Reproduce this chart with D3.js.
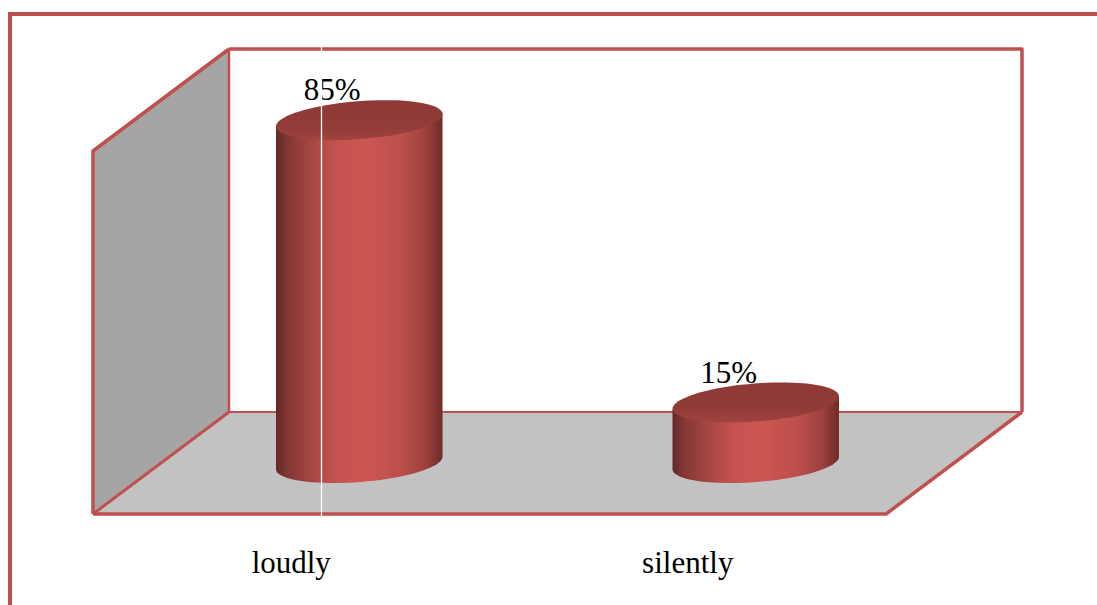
<!DOCTYPE html>
<html>
<head>
<meta charset="utf-8">
<script src="https://cdn.jsdelivr.net/npm/d3@7"></script>
<style>
  html, body { margin: 0; padding: 0; background: #ffffff; }
  svg { display: block; }
</style>
</head>
<body>
<svg id="chart" width="1097" height="605"></svg>
<script>
// Share of answers per reading style
const categories = ["loudly", "silently"];
const values = [85, 15];
const valueLabels = ["85%", "15%"];
const axisMax = 90;

const W = 1097, H = 605;
const edge = "#c0504d";
const svg = d3.select("#chart");

// 3D box: front plane plus a depth offset towards the back
const front = { left: 93, right: 886, floor: 514 };
const depth = { dx: 136, dy: -102 };
const wallHeight = 363;               // back wall height in px

const x = d3.scaleBand().domain(categories).range([front.left, front.right]).padding(0);
const h = d3.scaleLinear().domain([0, axisMax]).range([0, wallHeight]);

const defs = svg.append("defs");
const grad = defs.append("linearGradient").attr("id", "cyl").attr("x1", 0).attr("x2", 1).attr("y1", 0).attr("y2", 0);
[
  [0.00, "#622826"], [0.07, "#843634"], [0.22, "#a64745"], [0.37, "#c65350"],
  [0.55, "#cc5551"], [0.75, "#bd4f4c"], [0.90, "#9d413e"], [1.00, "#6e2b29"]
].forEach(([o, c]) => grad.append("stop").attr("offset", o).attr("stop-color", c));

const topGrad = defs.append("linearGradient").attr("id", "cylTop").attr("x1", 0).attr("x2", 0).attr("y1", 0).attr("y2", 1);
[[0, "#8d3936"], [0.7, "#923c39"], [1, "#a2433f"]].forEach(([o, c]) => topGrad.append("stop").attr("offset", o).attr("stop-color", c));

// Outer frame
svg.append("path")
  .attr("d", `M10,${H} L10,14 L${W},14`)
  .attr("fill", "none").attr("stroke", edge).attr("stroke-width", 4);

const bx = front.left + depth.dx, bxr = front.right + depth.dx;
const by = front.floor + depth.dy, bTop = by - wallHeight;

// Back wall
svg.append("rect").attr("x", bx).attr("y", bTop).attr("width", bxr - bx).attr("height", wallHeight).attr("fill", "#ffffff");

// Side wall
svg.append("path")
  .attr("d", `M${front.left},${front.floor} L${front.left},${front.floor - wallHeight} L${bx},${bTop} L${bx},${by} Z`)
  .attr("fill", "#a5a5a5");

// Floor
svg.append("path")
  .attr("d", `M${front.left},${front.floor} L${bx},${by} L${bxr},${by} L${front.right},${front.floor} Z`)
  .attr("fill", "#c2c2c2");

// Box edges
const edges = svg.append("g").attr("fill", "none").attr("stroke", edge).attr("stroke-linejoin", "round");
edges.append("path").attr("d", `M${bx},${by} L${bxr},${by}`).attr("stroke-width", 2);
edges.append("path").attr("d", `M${bx},${by} L${bx},${bTop}`).attr("stroke-width", 2.5);
edges.append("path").attr("d", `M${bx},${bTop} L${bxr},${bTop} L${bxr},${by}`).attr("stroke-width", 3.5);
edges.append("path").attr("d", `M${front.left},${front.floor} L${front.left},${front.floor - wallHeight} L${bx},${bTop}`).attr("stroke-width", 3.5);
edges.append("path").attr("d", `M${front.left},${front.floor} L${bx},${by}`).attr("stroke-width", 3);
edges.append("path").attr("d", `M${front.left},${front.floor} L${front.right},${front.floor} L${bxr},${by}`).attr("stroke-width", 3.5);

// Cylinders sit at mid depth; their elliptical caps are slightly tilted
const rx = 83.5, ry = 19, rot = -4.5 * Math.PI / 180;
const cosR = Math.cos(rot), sinR = Math.sin(rot);
const ellipsePt = (cx, cy, t) => [
  cx + rx * Math.cos(t) * cosR - ry * Math.sin(t) * sinR,
  cy + rx * Math.cos(t) * sinR + ry * Math.sin(t) * cosR
];
const arcPoints = (cx, cy, t0, t1, n = 40) =>
  d3.range(n + 1).map(i => ellipsePt(cx, cy, t0 + (t1 - t0) * i / n));

const data = categories.map((c, i) => ({ cat: c, value: values[i], label: valueLabels[i] }));
const bars = svg.append("g").selectAll("g").data(data).join("g");

bars.each(function(d) {
  const g = d3.select(this);
  const cx = x(d.cat) + x.bandwidth() / 2 + depth.dx / 2;
  const baseY = front.floor + depth.dy / 2;
  const topY = baseY - h(d.value);

  // Body: top-left corner, down and along the front half of the base, back up to top-right
  const pts = [ellipsePt(cx, topY, Math.PI), ...arcPoints(cx, baseY, Math.PI, 0), ellipsePt(cx, topY, 0)];
  g.append("path")
    .attr("d", d3.line()(pts) + "Z")
    .attr("fill", "url(#cyl)");

  // Top cap
  g.append("path")
    .attr("d", d3.line()(arcPoints(cx, topY, 0, 2 * Math.PI, 80)) + "Z")
    .attr("fill", "url(#cylTop)");

  g.append("text")
    .attr("x", cx - 27)
    .attr("y", topY - ry - 1)
    .attr("text-anchor", "middle")
    .attr("font-family", "'Liberation Serif', 'Times New Roman', serif")
    .attr("font-size", 31)
    .attr("fill", "#000")
    .text(d.label);
});

// Category labels under the front edge
svg.append("g").selectAll("text").data(categories).join("text")
  .attr("x", d => x(d) + x.bandwidth() / 2)
  .attr("y", 573)
  .attr("text-anchor", "middle")
  .attr("font-family", "'Liberation Serif', 'Times New Roman', serif")
  .attr("font-size", 31)
  .attr("fill", "#000")
  .text(d => d);

// Thin white seam running through the plot
svg.append("line")
  .attr("x1", 321.5).attr("x2", 321.5).attr("y1", bTop - 3).attr("y2", front.floor + 4)
  .attr("stroke", "#ffffff").attr("stroke-width", 1.3);
</script>
</body>
</html>
